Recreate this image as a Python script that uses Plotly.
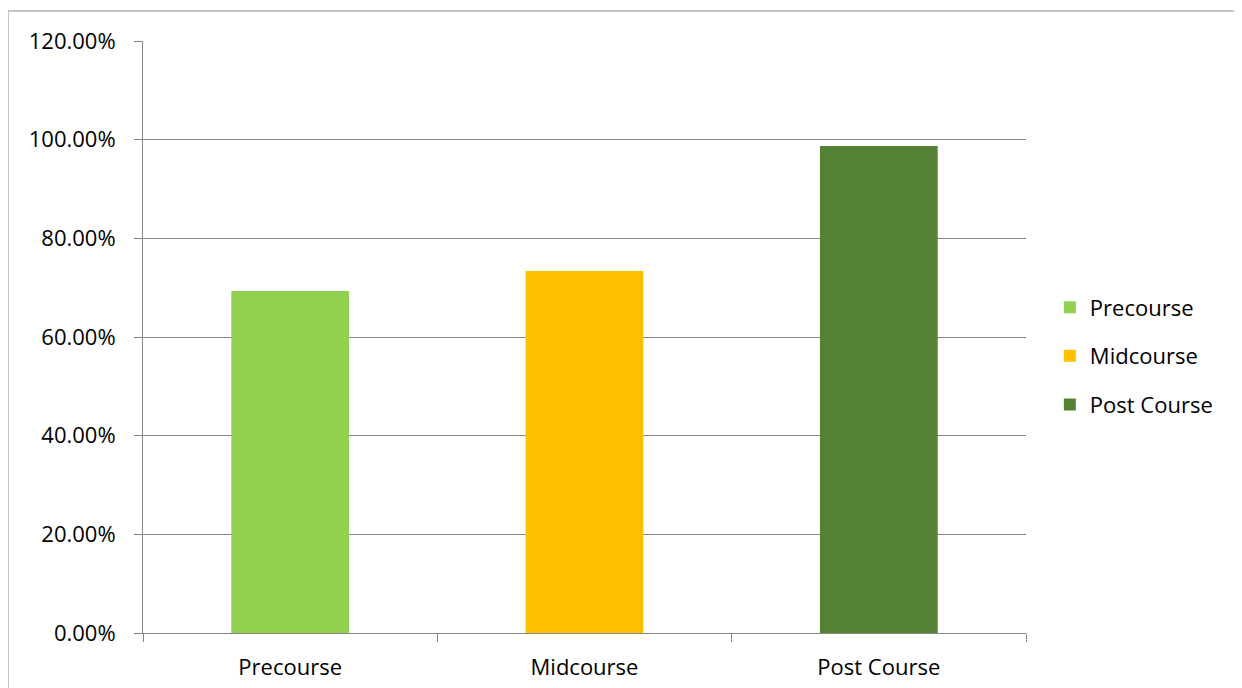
import plotly.graph_objects as go

categories = ["Precourse", "Midcourse", "Post Course"]
values = [0.693, 0.734, 0.987]
colors = ["#92D050", "#FFC000", "#548235"]

fig = go.Figure()
for i, (c, v, col) in enumerate(zip(categories, values, colors)):
    fig.add_trace(go.Bar(
        x=[c], y=[v], name=c, marker=dict(color=col, line=dict(width=0)),
        width=0.4, legendgroup=f"g{i}",
    ))

font = "Open Sans"
fs = 22
fig.update_layout(
    width=1242, height=688,
    margin=dict(l=135, r=224, t=33, b=63),
    paper_bgcolor="white", plot_bgcolor="white",
    barmode="overlay",
    showlegend=True,
    legend=dict(x=1.027, y=0.468, xanchor="left", yanchor="middle",
                font=dict(family=font, size=fs, color="#000000"),
                tracegroupgap=17, itemwidth=30),
    font=dict(family=font, size=fs, color="#000000"),
    xaxis=dict(
        type="category", categoryorder="array", categoryarray=categories,
        tickson="boundaries", ticks="outside", ticklen=8, tickcolor="#868686",
        showline=True, linecolor="#868686", linewidth=1,
        showgrid=False, ticklabelstandoff=15,
        tickfont=dict(family=font, size=fs, color="#000000"),
    ),
    yaxis=dict(
        range=[0, 1.2], dtick=0.2, tickformat=".2%",
        ticks="outside", ticklen=8, tickcolor="#868686",
        showline=True, linecolor="#868686", linewidth=1,
        showgrid=True, gridcolor="#868686", gridwidth=1,
        zeroline=False, ticklabelstandoff=14,
        tickfont=dict(family=font, size=fs, color="#000000"),
    ),
    shapes=[dict(type="rect", xref="paper", yref="paper",
                 x0=(0 - 135) / 883, x1=2, y0=-1, y1=(625 - 3) / 592,
                 line=dict(color="#B4B4B4", width=1.5), layer="below")],
)

fig.write_html("out.html")
